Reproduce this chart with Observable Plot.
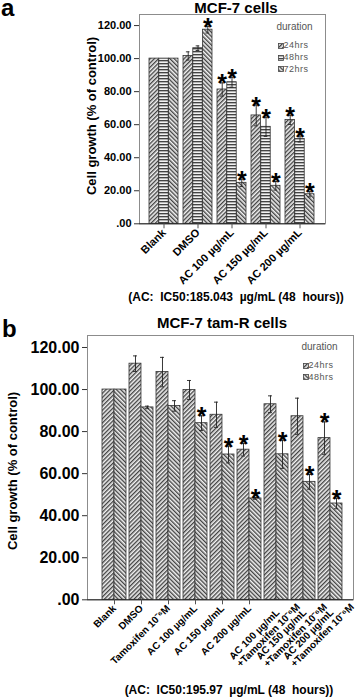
<!DOCTYPE html>
<html><head><meta charset="utf-8">
<script src="https://cdn.jsdelivr.net/npm/d3@7"></script>
<script src="https://cdn.jsdelivr.net/npm/@observablehq/plot@0.6"></script>
<style>
body{margin:0;background:#fff;}
#root{position:relative;width:358px;height:697px;overflow:hidden;font-family:"Liberation Sans",Arial,sans-serif;background:#fff;}
.abs{position:absolute;white-space:pre;line-height:1;}
.plot{position:absolute;left:0;}
.bold{font-weight:bold;color:#000;}
.rot{transform:translate(-50%,-50%) rotate(-90deg);}
.ctr{transform:translate(-50%,-50%);}
.leg{color:#555;font-size:10px;}
.legi{color:#555;font-size:9px;letter-spacing:0.5px;}
#pa [aria-label="y-axis tick label"]{font-size:11px;font-weight:bold;}
#pa [aria-label="x-axis tick label"]{font-size:11px;font-weight:bold;}
#pb [aria-label="y-axis tick label"]{font-size:16px;font-weight:bold;}
#pb [aria-label="x-axis tick label"]{font-size:10px;font-weight:bold;}
</style></head><body><div id="root"></div>
<script>
// ---------- Panel a data (MCF-7 cells) ----------
const groupsA = ["Blank", "DMSO", "AC 100 µg/mL", "AC 150 µg/mL", "AC 200 µg/mL"];
const seriesA = ["24hrs", "48hrs", "72hrs"];
const a24 = [100, 101.6, 81.3, 65.6, 62.9];
const a48 = [100, 106.3, 85.7, 58.7, 51.3];
const a72 = [100, 117.5, 24.8, 23.0, 17.9];
const a24err = [0, 2.5, 4.0, 6.3, 2.8];
const a48err = [0, 1.4, 3.0, 5.8, 1.8];
const a72err = [0, 2.0, 2.2, 2.6, 1.6];
const a24sig = [false, false, true, true, true];
const a48sig = [false, false, true, true, true];
const a72sig = [false, true, true, true, true];
const ticksA = [0, 20, 40, 60, 80, 100, 120];

// ---------- Panel b data (MCF-7 tam-R cells) ----------
const groupsB = ["Blank", "DMSO", "Tamoxifen 10⁻⁶M", "AC 100 µg/mL", "AC 150 µg/mL", "AC 200 µg/mL",
  "AC 100 µg/mL\n+Tamoxifen 10⁻⁶M", "AC 150 µg/mL\n+Tamoxifen 10⁻⁶M", "AC 200 µg/mL\n+Tamoxifen 10⁻⁶M"];
const seriesB = ["24hrs", "48hrs"];
const b24 = [100, 112.3, 108.3, 99.8, 88.0, 71.4, 93.0, 87.3, 76.9];
const b48 = [100, 91.5, 92.2, 84.0, 69.1, 48.2, 69.2, 56.1, 45.8];
const b24err = [0, 3.7, 7.0, 4.5, 6.0, 3.0, 4.0, 8.6, 7.7];
const b48err = [0, 0.6, 2.5, 3.5, 4.0, 0.4, 6.7, 3.5, 2.5];
const b24sig = [false, false, false, false, false, true, false, false, true];
const b48sig = [false, false, false, true, true, true, true, true, true];
const ticksB = [0, 20, 40, 60, 80, 100, 120];

const root = document.getElementById("root");

function addPatterns(svg, defsSpec) {
  const defs = d3.select(svg).insert("defs", ":first-child");
  for (const [id, kind] of defsSpec) {
    const p = defs.append("pattern").attr("id", id).attr("patternUnits", "userSpaceOnUse")
      .attr("width", 3).attr("height", 3);
    if (kind === "/") p.attr("patternTransform", "rotate(45)");
    if (kind === "\\") p.attr("patternTransform", "rotate(-45)");
    p.append("rect").attr("width", 3).attr("height", 3).attr("fill", "#f2f2f2");
    if (kind === "-") p.append("line").attr("x1", 0).attr("y1", 0.7).attr("x2", 3).attr("y2", 0.7).attr("stroke", "#3a3a3a").attr("stroke-width", 1.3);
    else p.append("line").attr("x1", 0.7).attr("y1", 0).attr("x2", 0.7).attr("y2", 3).attr("stroke", "#3a3a3a").attr("stroke-width", 1.3);
  }
}

function textWidth(str, font) {
  const c = textWidth.c || (textWidth.c = document.createElement("canvas").getContext("2d"));
  c.font = font;
  return c.measureText(str).width;
}

function panel(cfg) {
  const {id, groups, vals, errs, sigs, pats, range, pi, yMax, ticks, top, height, mt, mb, ml, mr, starSize, xFont} = cfg;
  const m = vals.length;
  const step = (range[1] - range[0]) / (groups.length - pi);
  const bw = step * (1 - pi);
  const w = bw / m;
  const cap = 4;
  const marks = [Plot.frame({stroke: "#8c8c8c"})];
  for (let k = 0; k < m; k++) {
    const rows = groups.map((g, i) => ({group: g, v: vals[k][i], e: errs[k][i], s: sigs[k][i]}));
    const off = (k - (m - 1) / 2) * w;
    const il = k * w, ir = (m - 1 - k) * w;
    marks.push(Plot.barY(rows, {x: "group", y: "v", fill: `url(#${pats[k]})`, stroke: "#333", strokeWidth: 0.8, insetLeft: il, insetRight: ir}));
    const er = rows.filter(d => d.e > 0);
    marks.push(Plot.ruleX(er, {x: "group", y1: d => d.v - d.e, y2: d => d.v + d.e, dx: off, stroke: "#222", strokeWidth: 0.9}));
    const ci = (w - cap) / 2;
    marks.push(Plot.tickY(er, {x: "group", y: d => d.v + d.e, insetLeft: il + ci, insetRight: ir + ci, stroke: "#222", strokeWidth: 0.9}));
    marks.push(Plot.tickY(er, {x: "group", y: d => d.v - d.e, insetLeft: il + ci, insetRight: ir + ci, stroke: "#222", strokeWidth: 0.9}));
    marks.push(Plot.text(rows.filter(d => d.s), {x: "group", y: d => d.v + d.e, text: () => "*", dx: off, dy: 1.5, fontSize: starSize, fontWeight: "bold", fill: "#000"}));
  }
  marks.push(Plot.ruleY([0], {stroke: "#222"}));
  marks.push(Plot.axisY(ticks, {tickFormat: d => d === 0 ? ".00" : d.toFixed(2), tickSize: 5, tickPadding: 3, label: null, fill: "#000", stroke: "#333"}));
  const single = groups.filter(g => !g.includes("\n"));
  const multi = groups.filter(g => g.includes("\n"));
  marks.push(Plot.axisX(single, {tickRotate: -45, tickSize: 5, tickPadding: 2, label: null, fill: "#000", stroke: "#555"}));
  if (multi.length) {
    // multi-line labels: first line ends at the tick, following lines start where it starts
    const w1 = textWidth(multi[0].split("\n")[0], xFont);
    const c = Math.SQRT1_2;
    const along = -w1 - 2, perp = 9;
    marks.push(Plot.axisX(multi, {tickRotate: -45, tickSize: 5, tickPadding: 2, label: null, fill: "#000", stroke: "#555",
      textAnchor: "start", lineAnchor: "middle", lineHeight: 1.05,
      dx: along * c + perp * c, dy: -along * c + perp * c}));
  }
  const svg = Plot.plot({
    width: 358, height, marginTop: mt, marginBottom: mb, marginLeft: ml, marginRight: mr,
    x: {type: "band", domain: groups, range, paddingInner: pi, paddingOuter: 0},
    y: {domain: [0, yMax]},
    style: {fontFamily: "Liberation Sans, Arial, sans-serif", background: "transparent", overflow: "visible"},
    marks
  });
  addPatterns(svg, pats.map((p, i) => [p, cfg.kinds[i]]));
  svg.setAttribute("id", id);
  svg.classList.add("plot");
  svg.style.top = top + "px";
  svg.style.position = "absolute";
  root.appendChild(svg);
}

panel({id: "pa", groups: groupsA, vals: [a24, a48, a72], errs: [a24err, a48err, a72err], sigs: [a24sig, a48sig, a72sig],
  pats: ["pA0", "pA1", "pA2"], kinds: ["/", "-", "\\"], range: [148.3, 315], pi: 0.145, yMax: 126.7, ticks: ticksA,
  top: 0, height: 300, mt: 14, mb: 300 - 223.3, ml: 139, mr: 33, starSize: 25, xFont: "bold 11px Liberation Sans"});

panel({id: "pb", groups: groupsB, vals: [b24, b48], errs: [b24err, b48err], sigs: [b24sig, b48sig],
  pats: ["pB0", "pB1"], kinds: ["/", "\\"], range: [100, 343.3], pi: 0.123, yMax: 125.7, ticks: ticksB,
  top: 325, height: 372, mt: 10, mb: 372 - 274.3, ml: 87, mr: 5, starSize: 25, xFont: "bold 10px Liberation Sans"});

function html(str) { root.insertAdjacentHTML("beforeend", str); }
// letters and titles
html(`<div class="abs bold" style="left:1px;top:1.5px;font-size:24px;line-height:12px;">a</div>`);
html(`<div class="abs bold ctr" style="left:236px;top:7px;font-size:15px;line-height:11px;">MCF-7 cells</div>`);
html(`<div class="abs bold rot" style="left:91px;top:116px;font-size:13px;">Cell growth (% of control)</div>`);
html(`<div class="abs bold ctr" style="left:236px;top:297px;font-size:12px;">(AC:  IC50:185.043  µg/mL (48  hours))</div>`);
html(`<div class="abs bold" style="left:2px;top:322.5px;font-size:24px;line-height:12px;">b</div>`);
html(`<div class="abs bold ctr" style="left:222px;top:322px;font-size:15px;">MCF-7 tam-R cells</div>`);
html(`<div class="abs bold rot" style="left:11.5px;top:471px;font-size:13px;">Cell growth (% of control)</div>`);
html(`<div class="abs bold ctr" style="left:229px;top:689.5px;font-size:12px;">(AC:  IC50:195.97  µg/mL (48  hours))</div>`);

// legends
function legend(x, y, pats, labels) {
  html(`<div class="abs leg" style="left:${x}px;top:${y - 5}px;">duration</div>`);
  labels.forEach((lab, i) => {
    const cy = y + 18.5 + i * 11.7;
    html(`<svg class="abs" style="left:${x + 1}px;top:${cy - 3}px;" width="6" height="6"><rect x="0.5" y="0.5" width="5" height="5" fill="url(#${pats[i]})" stroke="#444" stroke-width="0.8"/></svg>`);
    html(`<div class="abs legi" style="left:${x + 7}px;top:${cy - 4.5}px;">${lab}</div>`);
  });
}
legend(276.5, 27.3, ["pA0", "pA1", "pA2"], seriesA);
legend(301.5, 347, ["pB0", "pB1"], seriesB);
</script>
</body></html>
